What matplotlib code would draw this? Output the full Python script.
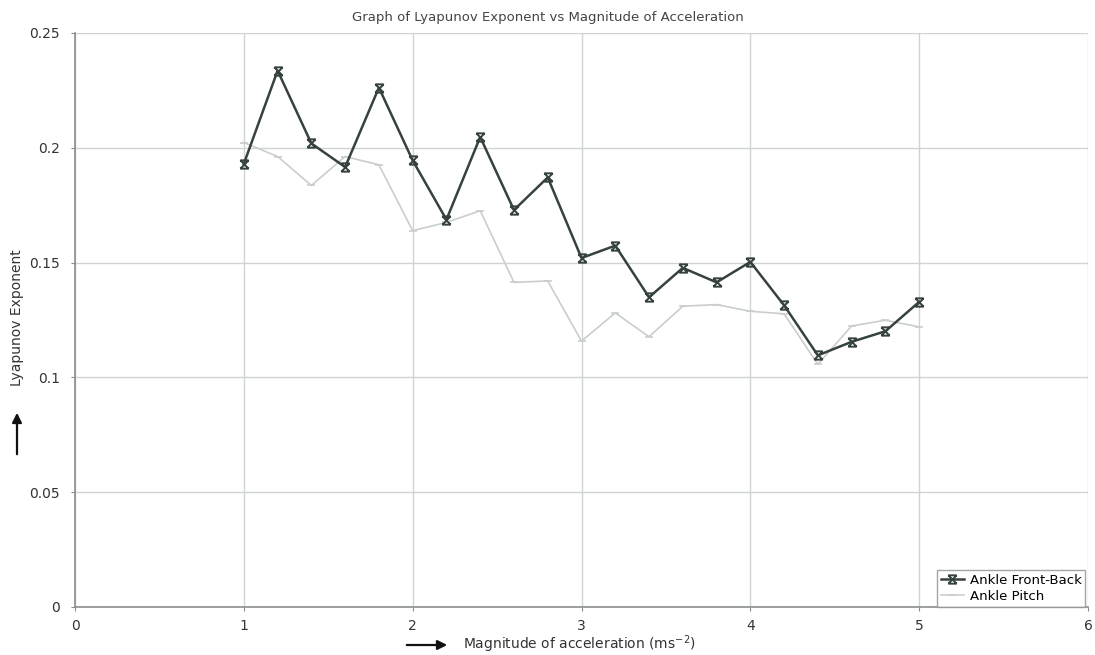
import matplotlib
matplotlib.use("Agg")
import matplotlib.pyplot as plt
from matplotlib.path import Path
import numpy as np

x_vals = [1.0, 1.2, 1.4, 1.6, 1.8, 2.0, 2.2, 2.4, 2.6, 2.8, 3.0,
          3.2, 3.4, 3.6, 3.8, 4.0, 4.2, 4.4, 4.6, 4.8, 5.0]
front_back = [0.193, 0.2336, 0.2019, 0.1916, 0.2262, 0.1945, 0.1687, 0.2047, 0.1729, 0.1871, 0.152,
              0.1574, 0.1349, 0.1477, 0.1414, 0.1503, 0.1314, 0.1096, 0.1155, 0.1201, 0.1329]
pitch = [0.2023, 0.1962, 0.1836, 0.1962, 0.1926, 0.1639, 0.1675, 0.1726, 0.1414, 0.142, 0.1158,
         0.1281, 0.1177, 0.131, 0.1317, 0.1288, 0.1277, 0.1057, 0.1224, 0.1249, 0.122]
x_ticks = [0, 1, 2, 3, 4, 5, 6]
y_ticks = [0, 0.05, 0.1, 0.15, 0.2, 0.25]
y_ticklabels = ["0", "0.05", "0.1", "0.15", "0.2", "0.25"]

plt.rcParams['font.family'] = ['DejaVu Sans']

fig = plt.figure(figsize=(10.95, 6.55), dpi=100)
ax = fig.add_axes([75/1095, 1-607/655, (1088-75)/1095, (607-33)/655])

# custom marker: X with top and bottom bars
verts = [(-1, -1), (1, 1), (-1, 1), (1, -1), (-1, 1), (1, 1), (-1, -1), (1, -1)]
codes = [Path.MOVETO, Path.LINETO, Path.MOVETO, Path.LINETO,
         Path.MOVETO, Path.LINETO, Path.MOVETO, Path.LINETO]
hourglass = Path(verts, codes)

dark = '#36423e'
light = '#c9cecd'

ax.plot(x_vals, pitch, color=light, lw=1.2, marker='_', ms=6, mew=1.2,
        label='Ankle Pitch', zorder=3)
ax.plot(x_vals, front_back, color=dark, lw=1.8, marker=hourglass, ms=6, mew=1.4,
        label='Ankle Front-Back', zorder=4)

ax.set_xlim(0, 6)
ax.set_ylim(0, 0.25)
ax.set_xticks(x_ticks)
ax.set_yticks(y_ticks)
ax.set_yticklabels(y_ticklabels)
ax.grid(True, color='#cfd3d3', lw=1.0)
ax.set_axisbelow(True)
for s in ['top', 'right']:
    ax.spines[s].set_visible(False)
for s in ['left', 'bottom']:
    ax.spines[s].set_color('#8a8f8e')
    ax.spines[s].set_linewidth(1.2)
ax.tick_params(axis='both', length=3, color='#8a8f8e', labelsize=10, labelcolor='#333333')
ax.tick_params(axis='x', pad=6)
ax.tick_params(axis='y', pad=8)

fig.text(0.5, 1-17/655, 'Graph of Lyapunov Exponent vs Magnitude of Acceleration',
         ha='center', va='center', fontsize=9.5, color='#444444')

# y label with arrow
fig.text(17/1095, 1-318/655, 'Lyapunov Exponent', rotation=90, ha='center', va='center',
         fontsize=10, color='#333333')
fig.patches.append(matplotlib.patches.FancyArrowPatch(
    (17/1095, 1-457/655), (17/1095, 1-410/655), transform=fig.transFigure,
    arrowstyle='-|>', mutation_scale=14, color='#111111', lw=1.6))

# x label with arrow
fig.text(463/1095, 1-644/655, 'Magnitude of acceleration (ms$^{-2}$)', ha='left', va='center',
         fontsize=10, color='#333333')
fig.patches.append(matplotlib.patches.FancyArrowPatch(
    (404/1095, 1-645/655), (450/1095, 1-645/655), transform=fig.transFigure,
    arrowstyle='-|>', mutation_scale=14, color='#111111', lw=1.6))

handles, labels = ax.get_legend_handles_labels()
leg = ax.legend(handles[::-1], labels[::-1], loc='lower right', bbox_to_anchor=(0.9975, 0.0),
                fontsize=9.5, frameon=True, fancybox=False, edgecolor='#8a8f8e',
                borderaxespad=0.0, handlelength=1.8, handletextpad=0.4,
                labelspacing=0.25, borderpad=0.3)
leg.get_frame().set_linewidth(1.0)

fig.savefig('out.png', dpi=100)
